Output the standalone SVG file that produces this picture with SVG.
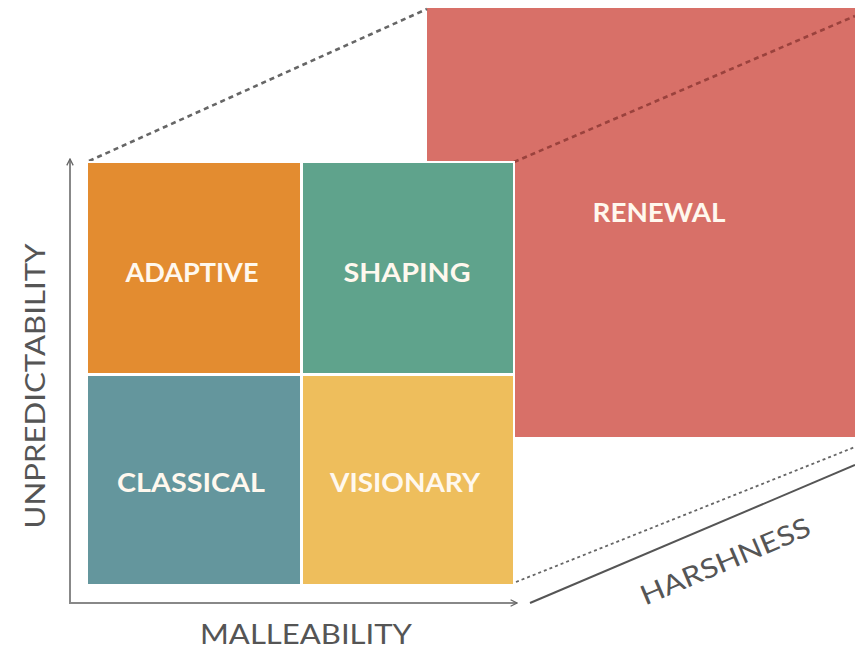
<svg xmlns="http://www.w3.org/2000/svg" width="855" height="649" viewBox="0 0 855 649">
<defs>
<marker id="arr" viewBox="0 0 10 10" refX="9" refY="5" markerWidth="8" markerHeight="8" markerUnits="userSpaceOnUse" orient="auto">
<path d="M1,1 L9,5 L1,9" fill="none" stroke="#666" stroke-width="1.6"/>
</marker>
<style>
.cell{stroke:none}
.lbl{font-family:Lato,"Liberation Sans",sans-serif;font-weight:bold;font-size:26px;fill:#FFF8EE;text-anchor:middle}
.ax{font-family:Lato,"Liberation Sans",sans-serif;font-size:27px;fill:#555;text-anchor:middle}
.axis{stroke:#888;stroke-width:2;fill:none}
</style>
</defs>
<rect width="855" height="649" fill="#fff"/>
<g id="renewal">
<rect class="cell" x="427" y="8" width="428" height="429" fill="#D87068"/>
<text class="lbl" x="659" y="222" textLength="133" lengthAdjust="spacingAndGlyphs">RENEWAL</text>
</g>
<g id="connectors">
<line x1="89" y1="161" x2="427" y2="9" stroke="#666" stroke-width="2.6" stroke-dasharray="5 4"/>
<line x1="514" y1="162" x2="855" y2="16" stroke="#9A423D" stroke-width="2.6" stroke-dasharray="5 4"/>
<line x1="516" y1="582" x2="855" y2="447" stroke="#666" stroke-width="1.8" stroke-dasharray="3 3"/>
<line x1="530" y1="603" x2="855" y2="465" stroke="#555" stroke-width="2"/>
<polyline class="axis" points="70,159 70,603 517,603" marker-end="url(#arr)"/>
<line class="axis" x1="70" y1="200" x2="70" y2="159" marker-end="url(#arr)"/>
</g>
<rect x="86" y="161" width="429" height="425" fill="#fff"/>
<g id="adaptive">
<rect class="cell" x="88" y="163" width="212" height="210" fill="#E38C30"/>
<text class="lbl" x="192" y="282" textLength="133" lengthAdjust="spacingAndGlyphs">ADAPTIVE</text>
</g>
<g id="shaping">
<rect class="cell" x="303" y="163" width="210" height="210" fill="#5FA38C"/>
<text class="lbl" x="407" y="282" textLength="127" lengthAdjust="spacingAndGlyphs">SHAPING</text>
</g>
<g id="classical">
<rect class="cell" x="88" y="376" width="212" height="208" fill="#64969D"/>
<text class="lbl" x="191" y="492" textLength="148" lengthAdjust="spacingAndGlyphs">CLASSICAL</text>
</g>
<g id="visionary">
<rect class="cell" x="303" y="376" width="210" height="208" fill="#EEBE5C"/>
<text class="lbl" x="405" y="492" textLength="150" lengthAdjust="spacingAndGlyphs">VISIONARY</text>
</g>
<g id="labels">
<text class="ax" x="306" y="644" textLength="212" lengthAdjust="spacingAndGlyphs">MALLEABILITY</text>
<text class="ax" transform="translate(45,386) rotate(-90)" textLength="285" lengthAdjust="spacingAndGlyphs">UNPREDICTABILITY</text>
<text class="ax" transform="translate(729,570) rotate(-23)" textLength="182" lengthAdjust="spacingAndGlyphs">HARSHNESS</text>
</g>
</svg>
